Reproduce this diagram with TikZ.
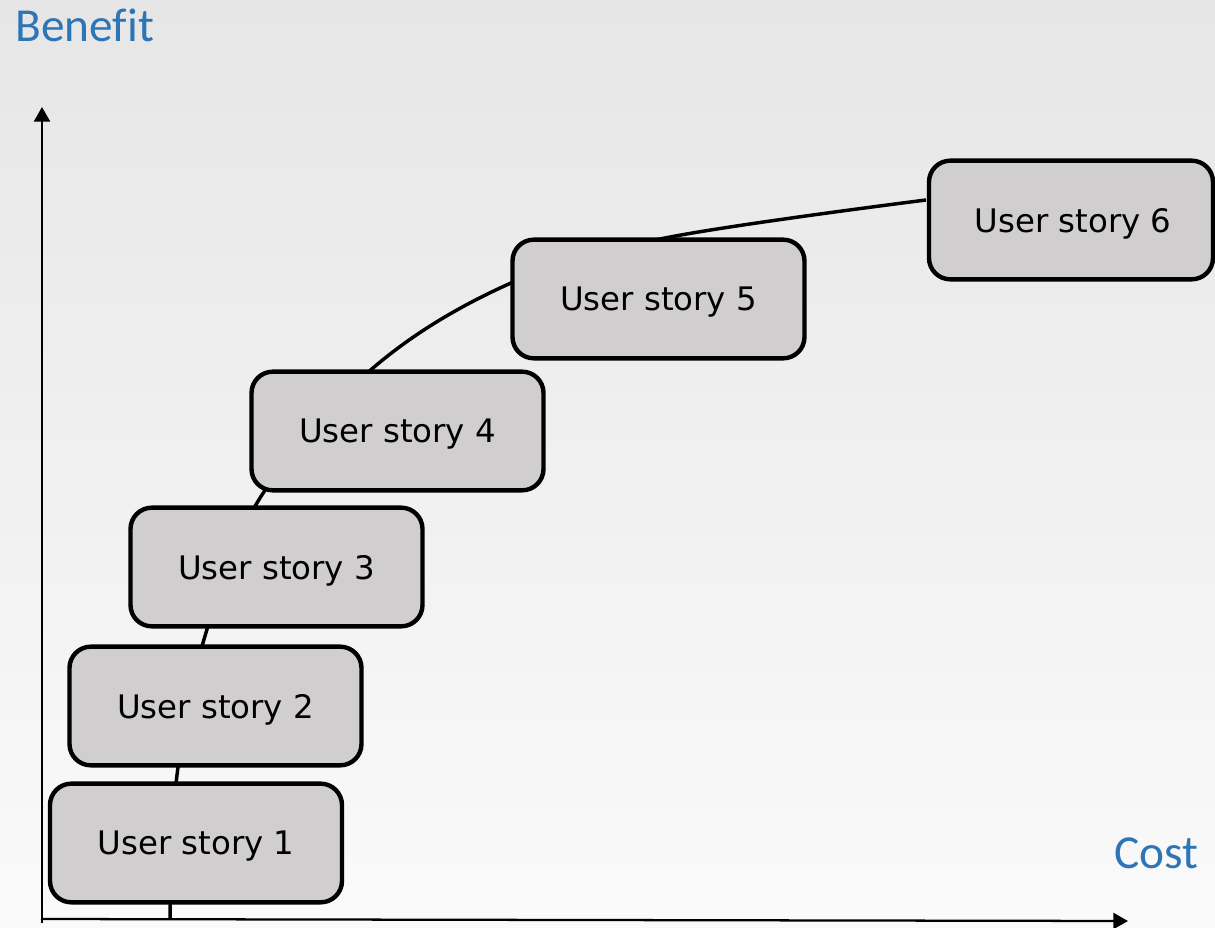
\documentclass[tikz,border=0pt]{standalone}
\usepackage{fontspec}
\setmainfont{DejaVu Sans}
\newfontfamily\labelfont[Ligatures=CommonOff]{Carlito}
\usetikzlibrary{arrows.meta}
\definecolor{labelblue}{RGB}{46,117,182}
\definecolor{storygray}{RGB}{208,206,206}
\tikzset{every picture/.style={line width=0.75pt}}

\begin{document}
\begin{tikzpicture}[x=0.75pt,y=0.75pt,yscale=-1,xscale=1,
	storybox/.style={draw, line width=3.3pt, fill=storygray, rounded corners=16pt, minimum width=219pt, minimum height=89pt, inner sep=0pt, text depth=0pt, font=\fontsize{24.3}{28}\selectfont},
	axislabel/.style={text=labelblue, inner sep=0pt, font=\labelfont\fontsize{35.5}{42}\selectfont},
	axisline/.style={line width=1.7pt, -{Triangle[length=11pt,width=12pt]}}]

	%Shape: Background
	\useasboundingbox (0,0) rectangle (1215,928);
	\shade [top color={rgb,255:red,230;green,230;blue,230}, bottom color={rgb,255:red,250;green,250;blue,250}] (0,0) rectangle (1215,928);

	%Curve through the stories
	\coordinate (c0) at (170,919);
	\coordinate (c1) at (177,775);
	\coordinate (c2) at (205,636);
	\coordinate (c3) at (260,498);
	\coordinate (c4) at (373,368);
	\coordinate (c5) at (511,283);
	\coordinate (c6) at (665,238);
	\coordinate (c7) at (926,200);
	\draw [line width=2.6pt] plot [smooth, tension=0.6] coordinates {(c0) (c1) (c2) (c3) (c4) (c5) (c6) (c7)};

	%Shape: Rounded Rect
	\node [storybox] (us1) at (196,843) {User story 1};
	%Shape: Rounded Rect
	\node [storybox] (us2) at (215.5,706) {User story 2};
	%Shape: Rounded Rect
	\node [storybox] (us3) at (276.5,567) {User story 3};
	%Shape: Rounded Rect
	\node [storybox] (us4) at (397.5,431) {User story 4};
	%Shape: Rounded Rect
	\node [storybox] (us5) at (658.5,299) {User story 5};
	%Shape: Rounded Rect
	\node [storybox, minimum width=213pt] (us6) at (1071,220) {\hspace{3pt}User story 6};

	%Shape: Axis 2D
	\coordinate (origin) at (42,919);
	\coordinate (ytip) at (42,107);
	\coordinate (xtip) at (1128,921);
	\draw [axisline] (42,923) -- (ytip);
	\draw [axisline] (41,919) -- (xtip);

	% Text Node
	\node [axislabel, anchor=base west] (benefit) at (15,41) {Benefit};
	% Text Node
	\node [axislabel, anchor=base west] (cost) at (1114,868) {Cost};

\end{tikzpicture}
\end{document}
